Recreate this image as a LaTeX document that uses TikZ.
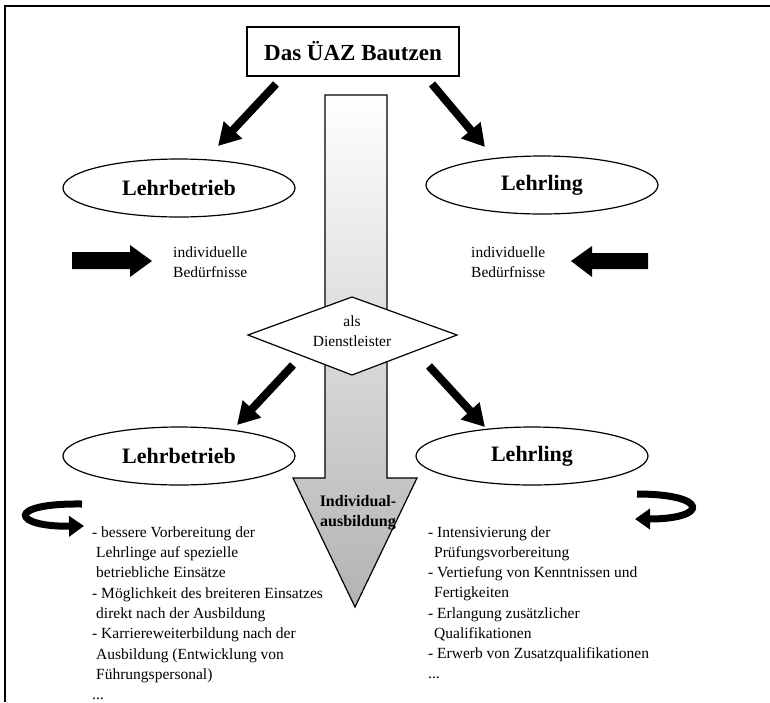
\documentclass[tikz,border=0pt]{standalone}
\usepackage{fontspec}
\setmainfont{Liberation Serif}
\usetikzlibrary{arrows.meta,shapes.geometric}

\begin{document}
\begin{tikzpicture}[x=1pt,y=-1pt,
  oval/.style={draw,ellipse,line width=1.2pt,minimum width=232pt,minimum height=58pt,inner sep=0pt,font=\fontsize{22}{26}\selectfont\bfseries},
  blk/.style={line width=8pt,-{Triangle[length=22pt,width=24pt]}},
  curl/.style={line width=7pt,-{Triangle[length=15pt,width=20pt]}},
  txt/.style={inner sep=0pt,anchor=north west,align=left,font=\fontsize{15.5}{20}\selectfont}]
\useasboundingbox (0,0) rectangle (770,702);
% frame
\draw[line width=2pt] (5,702) -- (5,6) -- (770,6);
% grey arrow in the middle
\draw[line width=1.2pt,top color=white,bottom color=black!30] (325,95) -- (387,95) -- (387,478) -- (417,478) -- (355,607) -- (293,478) -- (325,478) -- cycle;
\node[inner sep=0pt,align=center,font=\fontsize{16}{20}\selectfont\bfseries] (indiv) at (358,513) {Individual-\\ausbildung};
% title
\node[draw,line width=1.5pt,minimum width=212pt,minimum height=49pt,font=\fontsize{23}{27}\selectfont\bfseries] (uaz) at (353,51.5) {Das ÜAZ Bautzen};
% diamond
\draw[line width=1.2pt,fill=white] (352,297) -- (457,335) -- (352,375) -- (248,335) -- cycle;
\node[inner sep=0pt,align=center,font=\fontsize{15.5}{20}\selectfont] (dienst) at (352,331) {als\\Dienstleister};
% ellipses
\node[oval] (betrieb1) at (179,188) {Lehrbetrieb};
\node[oval] (lehrling1) at (542,185) {Lehrling};
\node[oval] (betrieb2) at (179,456) {Lehrbetrieb};
\node[oval] (lehrling2) at (532,456) {Lehrling};
% diagonal arrows
\coordinate (s1) at (276,84);
\coordinate (t1) at (218,146);
\coordinate (s2) at (432,84);
\coordinate (t2) at (485,147);
\coordinate (s3) at (293,365);
\coordinate (t3) at (237,425);
\coordinate (s4) at (429,366);
\coordinate (t4) at (485,427);
\draw[blk] (s1) -- (t1);
\draw[blk] (s2) -- (t2);
\draw[blk] (s3) -- (t3);
\draw[blk] (s4) -- (t4);
% needs
\node[txt] (need1) at (173,246.5) {individuelle\\Bedürfnisse};
\node[txt] (need2) at (471,246.5) {individuelle\\Bedürfnisse};
\fill (72,252) -- (130,252) -- (130,245) -- (152,261) -- (130,277) -- (130,269) -- (72,269) -- cycle;
\fill (648,253) -- (592,253) -- (592,246) -- (571,261) -- (592,277) -- (592,269) -- (648,269) -- cycle;
% curled arrows
\coordinate (c1) at (82,504);
\coordinate (d1) at (84,526);
\coordinate (c2) at (637,494);
\coordinate (d2) at (635,519);
\draw[curl] (c1) .. controls (5,503) and (12,527) .. (d1);
\draw[curl] (c2) .. controls (709,494) and (709,519) .. (d2);
% lists
\node[txt,font=\fontsize{15.5}{20.3}\selectfont] (vorteil1) at (92,526.4) {- bessere Vorbereitung der\\
\hspace*{4pt}Lehrlinge auf spezielle\\
\hspace*{4pt}betriebliche Einsätze\\
- Möglichkeit des breiteren Einsatzes\\
\hspace*{4pt}direkt nach der Ausbildung\\
- Karriereweiterbildung nach der\\
\hspace*{4pt}Ausbildung (Entwicklung von\\
\hspace*{4pt}Führungspersonal)\\
...};
\node[txt,font=\fontsize{15.5}{20.2}\selectfont] (vorteil2) at (428,526.4) {- Intensivierung der\\
\hspace*{6pt}Prüfungsvorbereitung\\
- Vertiefung von Kenntnissen und\\
\hspace*{6pt}Fertigkeiten\\
- Erlangung zusätzlicher\\
\hspace*{6pt}Qualifikationen\\
- Erwerb von Zusatzqualifikationen\\
...};
\end{tikzpicture}
\end{document}
